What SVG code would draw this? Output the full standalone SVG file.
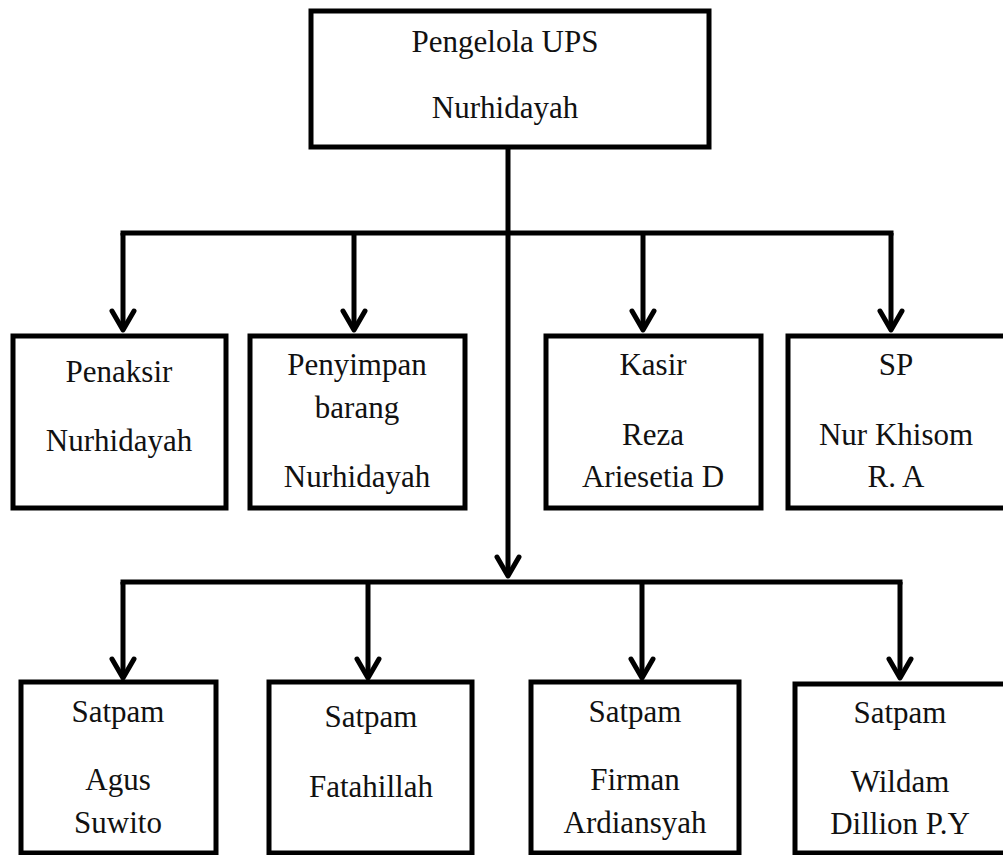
<svg xmlns="http://www.w3.org/2000/svg" width="1003" height="855" viewBox="0 0 1003 855">
<style>
.box{fill:#fff;stroke:#000;stroke-width:5}
.t{font-size:31px;fill:#111;text-anchor:middle}
.c{fill:none;stroke:#000;stroke-width:5}
</style>
<defs>
<marker id="arr" markerUnits="userSpaceOnUse" viewBox="-26 -16 30 32" refX="0" refY="0" markerWidth="30" markerHeight="32" orient="auto">
<path d="M-19,-11 L0,0 L-19,11" fill="none" stroke="#000" stroke-width="5" stroke-linejoin="round" stroke-linecap="round"/>
</marker>
</defs>
<rect width="1003" height="855" fill="#fff"/>
<g id="connectors">
<line class="c" x1="508" y1="147" x2="508" y2="576" marker-end="url(#arr)"/>
<line class="c" x1="120.5" y1="233" x2="893.5" y2="233"/>
<line class="c" x1="123" y1="233" x2="123" y2="330" marker-end="url(#arr)"/>
<line class="c" x1="354" y1="233" x2="354" y2="330" marker-end="url(#arr)"/>
<line class="c" x1="643" y1="233" x2="643" y2="330" marker-end="url(#arr)"/>
<line class="c" x1="891" y1="233" x2="891" y2="330" marker-end="url(#arr)"/>
<line class="c" x1="120.5" y1="582" x2="902.5" y2="582"/>
<line class="c" x1="123" y1="582" x2="123" y2="678" marker-end="url(#arr)"/>
<line class="c" x1="368" y1="582" x2="368" y2="678" marker-end="url(#arr)"/>
<line class="c" x1="642" y1="582" x2="642" y2="678" marker-end="url(#arr)"/>
<line class="c" x1="900" y1="582" x2="900" y2="678" marker-end="url(#arr)"/>
</g>
<g font-family="Liberation Serif, Tinos, Times New Roman, serif">
<g id="pengelola">
<rect class="box" x="311" y="11" width="398" height="136"/>
<text class="t" x="505" y="52">Pengelola UPS</text>
<text class="t" x="505" y="118">Nurhidayah</text>
</g>
<g id="penaksir">
<rect class="box" x="13" y="336" width="213" height="172"/>
<text class="t" x="119" y="382">Penaksir</text>
<text class="t" x="119" y="451">Nurhidayah</text>
</g>
<g id="penyimpan">
<rect class="box" x="250" y="336" width="215" height="172"/>
<text class="t" x="357" y="375">Penyimpan</text>
<text class="t" x="357" y="418">barang</text>
<text class="t" x="357" y="487">Nurhidayah</text>
</g>
<g id="kasir">
<rect class="box" x="546" y="336" width="215" height="172"/>
<text class="t" x="653" y="375">Kasir</text>
<text class="t" x="653" y="445">Reza</text>
<text class="t" x="653" y="487">Ariesetia D</text>
</g>
<g id="sp">
<rect class="box" x="788" y="336" width="220" height="172"/>
<text class="t" x="896" y="375">SP</text>
<text class="t" x="896" y="445">Nur Khisom</text>
<text class="t" x="896" y="487">R. A</text>
</g>
<g id="satpam1">
<rect class="box" x="21" y="682" width="195" height="171"/>
<text class="t" x="118" y="722">Satpam</text>
<text class="t" x="118" y="790">Agus</text>
<text class="t" x="118" y="833">Suwito</text>
</g>
<g id="satpam2">
<rect class="box" x="269" y="682" width="203" height="171"/>
<text class="t" x="371" y="727">Satpam</text>
<text class="t" x="371" y="797">Fatahillah</text>
</g>
<g id="satpam3">
<rect class="box" x="531" y="682" width="208" height="171"/>
<text class="t" x="635" y="722">Satpam</text>
<text class="t" x="635" y="790">Firman</text>
<text class="t" x="635" y="833">Ardiansyah</text>
</g>
<g id="satpam4">
<rect class="box" x="795" y="684" width="215" height="169"/>
<text class="t" x="900" y="723">Satpam</text>
<text class="t" x="900" y="792">Wildam</text>
<text class="t" x="900" y="834">Dillion P.Y</text>
</g>
</g>
</svg>
